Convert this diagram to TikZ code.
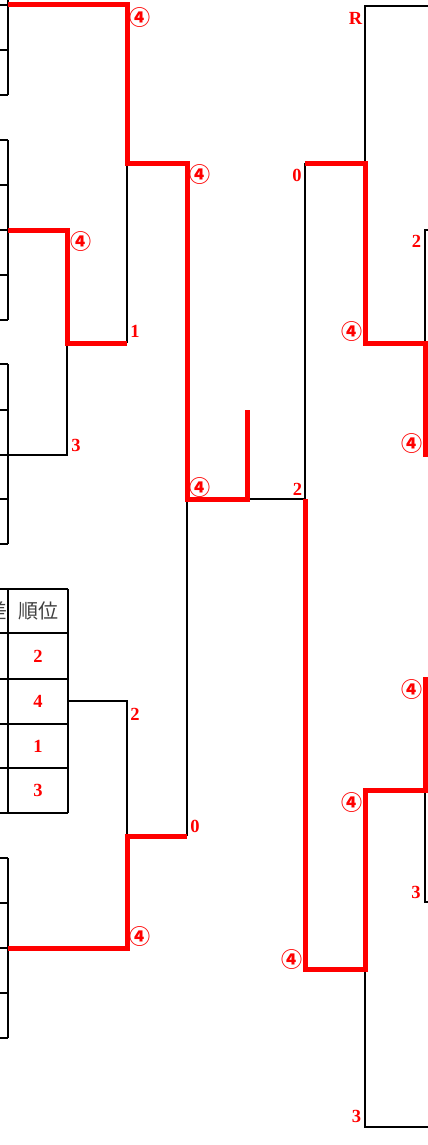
\documentclass[tikz,border=0pt]{standalone}
\usepackage{fontspec}
\setmainfont{Liberation Serif}
\newfontfamily\jpfont{Noto Sans CJK JP}
\begin{document}
\begin{tikzpicture}[x=1pt,y=-1pt,
  blk/.style={line width=2pt,draw=black},
  win/.style={line width=5pt,draw=red,line join=miter},
  lab/.style={text=red,font=\fontsize{18.5}{20}\selectfont\bfseries,inner sep=0pt},
  circ/.style={text=red,font=\jpfont\bfseries\fontsize{21}{22}\selectfont,inner sep=0pt},
  cell/.style={text=red,font=\fontsize{18.5}{20}\selectfont\bfseries,inner sep=0pt},
  head/.style={text=black!75,font=\jpfont\fontsize{20}{21}\selectfont,inner sep=0pt}]
\useasboundingbox (0,0) rectangle (428,1145);

% ---------- left entry rows (table edge) ----------
\foreach \y in {5,50,95,140,185,230,275,320,364,410,455,499,544,858,903,948,993,1038}
  \draw[blk] (0,\y) -- (8,\y);
\draw[blk] (8,0) -- (8,95);
\draw[blk] (8,140) -- (8,320);
\draw[blk] (8,364) -- (8,544);
\draw[blk] (8,858) -- (8,1038);

% ---------- ranking table ----------
\foreach \y in {589,633,679,724,768,813}
  \draw[blk] (0,\y) -- (68,\y);
\draw[blk] (8,589) -- (8,813);
\draw[blk] (68,589) -- (68,813);
\begin{scope}
  \clip (0,589) rectangle (7,633);
  \node[head,anchor=east] (hcut) at (7.5,611) {差};
\end{scope}
\node[head] (hrank) at (38,611) {順位};
\node[cell] (r1) at (38,656) {2};
\node[cell] (r2) at (38,701) {4};
\node[cell] (r3) at (38,746) {1};
\node[cell] (r4) at (38,790) {3};

% ---------- coordinates ----------
\coordinate (a1) at (8,5);     \coordinate (a2) at (127,5);
\coordinate (a3) at (127,163); \coordinate (a4) at (187,163);
\coordinate (a5) at (187,499); \coordinate (a6) at (247,499);
\coordinate (a7) at (247,410);
\coordinate (b1) at (8,230);   \coordinate (b2) at (67,230);
\coordinate (b3) at (67,343);  \coordinate (b4) at (127,343);
\coordinate (c1) at (8,455);   \coordinate (c2) at (67,455);
\coordinate (d1) at (68,701);  \coordinate (d2) at (127,701);
\coordinate (d3) at (127,836);
\coordinate (e1) at (8,948);   \coordinate (e2) at (127,948);
\coordinate (e3) at (187,836);
\coordinate (f1) at (305,499); \coordinate (f2) at (305,163);
\coordinate (f3) at (365,163); \coordinate (f4) at (365,343);
\coordinate (f5) at (425,343); \coordinate (f6) at (425,457);
\coordinate (g1) at (365,6);   \coordinate (g2) at (428,6);
\coordinate (h1) at (425,230); \coordinate (h2) at (428,230);
\coordinate (k1) at (305,969); \coordinate (k2) at (365,969);
\coordinate (k3) at (365,790); \coordinate (k4) at (425,790);
\coordinate (k5) at (425,677);
\coordinate (m1) at (365,1127);\coordinate (m2) at (428,1127);
\coordinate (n1) at (425,902); \coordinate (n2) at (428,902);

% ---------- black (losing) lines ----------
\draw[blk] (b4) -- (a3);
\draw[blk] (c1) -- (c2) -- (b3);
\draw[blk] (d1) -- (d2) -- (d3);
\draw[blk] (a5) -- (e3);
\draw[blk] (a6) -- (f1);
\draw[blk] (f1) -- (f2);
\draw[blk] (f3) -- (g1) -- (g2);
\draw[blk] (h2) -- (h1) -- (f5);
\draw[blk] (k2) -- (m1) -- (m2);
\draw[blk] (k4) -- (n1) -- (n2);

% ---------- red (winning) lines ----------
\draw[win] (a1) -- (a2) -- (a3) -- (a4) -- (a5) -- (a6) -- (a7);
\draw[win] (b1) -- (b2) -- (b3) -- (b4);
\draw[win] (e1) -- (e2) -- (d3) -- (e3);
\draw[win] (f2) -- (f3) -- (f4) -- (f5) -- (f6);
\draw[win] (f1) -- (k1) -- (k2) -- (k3) -- (k4) -- (k5);

% ---------- labels ----------
\node[circ] (l1) at (140,18) {④};
\node[circ] (l2) at (200,175) {④};
\node[circ] (l3) at (80.5,242) {④};
\node[lab]  (l4) at (135,331) {1};
\node[lab]  (l5) at (76,445) {3};
\node[circ] (l6) at (200,488) {④};
\node[lab]  (l7) at (135,714) {2};
\node[lab]  (l8) at (195,826) {0};
\node[circ] (l9) at (140,937) {④};
\node[lab]  (l10) at (355.5,18.5) {R};
\node[lab]  (l11) at (297,175.5) {0};
\node[lab]  (l12) at (416.5,241) {2};
\node[circ] (l13) at (352,332) {④};
\node[circ] (l14) at (412,444) {④};
\node[lab]  (l15) at (297.5,489) {2};
\node[circ] (l16) at (412,690) {④};
\node[circ] (l17) at (352,803) {④};
\node[lab]  (l18) at (416,892) {3};
\node[circ] (l19) at (292,960) {④};
\node[lab]  (l20) at (356.5,1116) {3};
\end{tikzpicture}
\end{document}
